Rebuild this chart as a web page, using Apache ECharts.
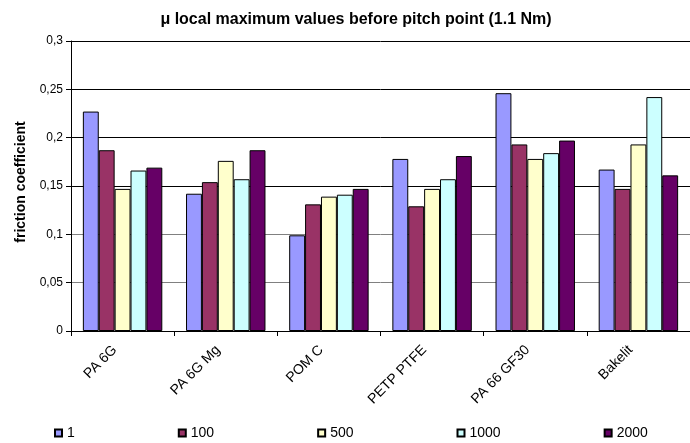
<!DOCTYPE html>
<html>
<head>
<meta charset="utf-8">
<script src="https://cdn.jsdelivr.net/npm/echarts@6/dist/echarts.min.js"></script>
<style>
html,body{margin:0;padding:0;background:#fff;}
#c{width:690px;height:443px;}
</style>
</head>
<body>
<div id="c"></div>
<script>
const categories = ['PA 6G', 'PA 6G Mg', 'POM C', 'PETP PTFE', 'PA 66 GF30', 'Bakelit'];
const seriesNames = ['1', '100', '500', '1000', '2000'];
const s1 = [0.227, 0.142, 0.099, 0.178, 0.246, 0.167];
const s100 = [0.187, 0.154, 0.131, 0.129, 0.193, 0.147];
const s500 = [0.147, 0.176, 0.139, 0.147, 0.178, 0.193];
const s1000 = [0.166, 0.157, 0.141, 0.157, 0.184, 0.242];
const s2000 = [0.169, 0.187, 0.147, 0.181, 0.197, 0.161];
const yTickLabels = ['0', '0,05', '0,1', '0,15', '0,2', '0,25', '0,3'];
const colors = ['#9999FF', '#993366', '#FFFFCC', '#CCFFFF', '#660066'];

const seriesData = [s1, s100, s500, s1000, s2000];
const FONT = "'Liberation Sans', Arial, sans-serif";

const chart = echarts.init(document.getElementById('c'), null, {renderer: 'canvas'});
chart.setOption({
  animation: false,
  backgroundColor: '#fff',
  color: colors,
  title: {
    text: 'μ local maximum values before pitch point (1.1 Nm)',
    left: 351,
    textAlign: 'center',
    top: 7,
    textStyle: {fontFamily: FONT, fontSize: 16, fontWeight: 'bold', color: '#000'}
  },
  legend: {
    left: 49,
    top: 421,
    itemWidth: 7,
    itemHeight: 7,
    itemGap: 103,
    icon: 'rect',
    textStyle: {fontFamily: FONT, fontSize: 14, color: '#000'},
    data: seriesNames
  },
  grid: {left: 71, top: 41, right: -9, bottom: 112, containLabel: false},
  xAxis: {
    type: 'category',
    data: categories,
    axisLine: {lineStyle: {color: '#000', width: 1}},
    axisTick: {show: true, length: 5, lineStyle: {color: '#000'}},
    axisLabel: {
      rotate: 45,
      margin: 9,
      padding: [0, 11, 0, 0],
      fontFamily: FONT, fontSize: 14, color: '#000',
      interval: 0
    }
  },
  yAxis: {
    type: 'value',
    min: 0,
    max: 0.3,
    interval: 0.05,
    name: 'friction coefficient',
    nameLocation: 'middle',
    nameGap: 43,
    nameTextStyle: {fontFamily: FONT, fontSize: 14, fontWeight: 'bold', color: '#000', padding: [0, 0, 0, 8]},
    axisLine: {show: true, lineStyle: {color: '#000', width: 1}},
    axisTick: {show: true, length: 5, lineStyle: {color: '#000'}},
    axisLabel: {
      margin: 8,
      fontFamily: FONT, fontSize: 12, color: '#000',
      formatter: function (v, i) { return yTickLabels[i]; }
    },
    splitLine: {show: true, lineStyle: {color: ['#000', '#808080', '#808080', '#000', '#000', '#000', '#000'], width: 1}}
  },
  series: seriesData.map(function (d, i) {
    return {
      name: seriesNames[i],
      type: 'bar',
      data: d,
      barGap: '0%',
      barCategoryGap: '23%',
      itemStyle: {color: colors[i], borderColor: '#000', borderWidth: 1}
    };
  })
});
</script>
</body>
</html>
